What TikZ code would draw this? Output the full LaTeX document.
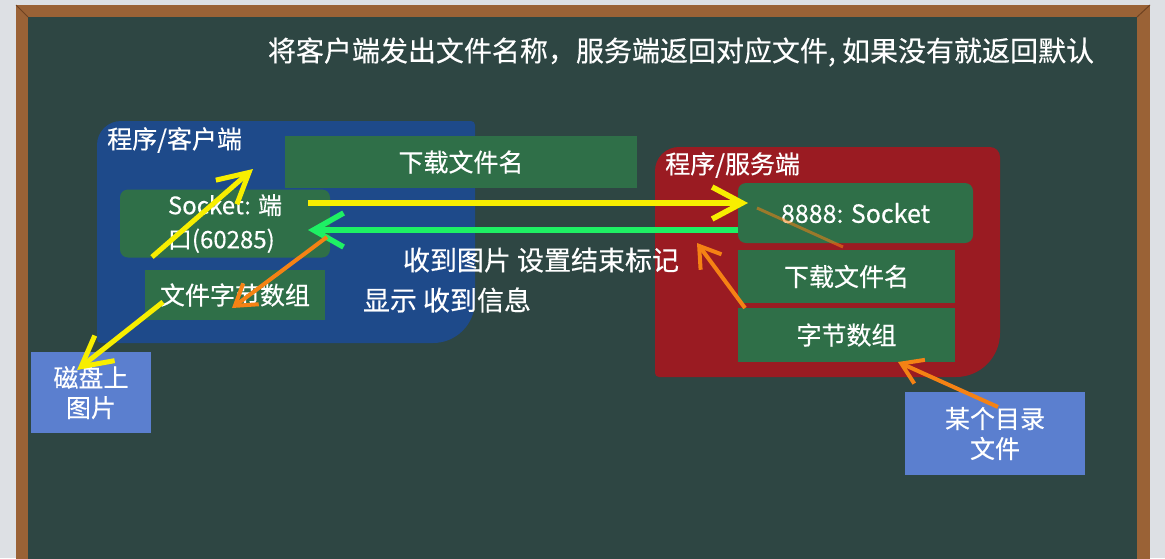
\documentclass[tikz,border=0pt]{standalone}
\usepackage{fontspec}
\setmainfont{Noto Sans CJK SC}[FakeBold=0.35]
\usetikzlibrary{arrows.meta}
\definecolor{outside}{HTML}{DDE0E4}
\definecolor{wood}{HTML}{9A6236}
\definecolor{wooddark}{HTML}{6E4222}
\definecolor{board}{HTML}{2E4643}
\definecolor{cliblue}{HTML}{1E4A8A}
\definecolor{boxgreen}{HTML}{2F6F48}
\definecolor{srvred}{HTML}{9A1B22}
\definecolor{lightblue}{HTML}{5B7FCF}
\definecolor{ayellow}{HTML}{F7EE00}
\definecolor{agreen}{HTML}{1EF064}
\definecolor{aorange}{HTML}{F58214}
\tikzset{
  txt/.style={text=white, inner sep=0pt, font=\fontsize{25}{30}\selectfont},
  gbox/.style={fill=boxgreen, inner sep=0pt, text=white, font=\fontsize{25}{30}\selectfont},
  lbbox/.style={fill=lightblue, inner sep=0pt, text=white, align=center, font=\fontsize{25}{30}\selectfont},
  yarrow/.style={draw=ayellow, line width=5.5pt, -{Straight Barb[length=30pt,width=32pt]}},
  garrow/.style={draw=agreen, line width=5.5pt, -{Straight Barb[length=30pt,width=34pt]}},
  oarrow/.style={draw=aorange, line width=4pt, -{Straight Barb[length=20pt,width=26pt]}}
}
\begin{document}
\begin{tikzpicture}[x=1pt,y=-1pt]
\useasboundingbox (0,0) rectangle (1165,558);
% background and chalkboard frame
\fill[outside] (0,0) rectangle (1165,558);
\fill[wood] (16,5) rectangle (1150,560);
\draw[wooddark, line width=1pt] (16,5) -- (28,17) (1150,5) -- (1137,17);
\fill[board] (28,17) rectangle (1137,560);
% title
\node[txt, font=\fontsize{28}{32}\selectfont] (title) at (681,52) {将客户端发出文件名称，服务端返回对应文件, 如果没有就返回默认};
% client container
\fill[cliblue] (97,250) [rounded corners=24] -- (97,121) [rounded corners=4] -- (475,121) [rounded corners=42] -- (475,343) [rounded corners=4] -- (97,343) -- cycle;
\node[txt, anchor=west] (clilabel) at (107,140) {程序/客户端};
% client inner boxes
\node[gbox, minimum width=352pt, minimum height=52pt] (dlname) at (461,162) {下载文件名};
\node[gbox, rounded corners=8pt, minimum width=210pt, minimum height=68pt, align=left, font=\fontsize{24}{34}\selectfont] (sockC) at (225,223.5) {Socket: 端\\口(60285)};
\node[gbox, minimum width=180pt, minimum height=50pt] (bytesC) at (235,295) {文件字节数组};
% disk
\node[lbbox, minimum width=120pt, minimum height=81pt] (disk) at (91,392.5) {磁盘上\\图片};
% server container
\fill[srvred] (655,260) [rounded corners=24] -- (655,147) [rounded corners=10] -- (1000,147) [rounded corners=44] -- (1000,377) [rounded corners=4] -- (655,377) -- cycle;
\node[txt, anchor=west] (srvlabel) at (665,165) {程序/服务端};
\node[gbox, rounded corners=8pt, minimum width=235pt, minimum height=60pt] (sockS) at (855.5,213) {8888: Socket};
\node[gbox, minimum width=217pt, minimum height=53pt] (nameS) at (846.5,276.5) {下载文件名};
\node[gbox, minimum width=217pt, minimum height=54pt] (bytesS) at (846.5,335) {字节数组};
% directory file
\node[lbbox, minimum width=180pt, minimum height=83pt] (dir) at (995,433.5) {某个目录\\文件};
% texts between
\node[txt, font=\fontsize{27}{32}\selectfont] (recv) at (541,260) {收到图片 设置结束标记};
\node[txt, font=\fontsize{27}{32}\selectfont] (show) at (447,300) {显示 收到信息};
% connector end points
\coordinate (yA) at (308,203);
\coordinate (yB) at (748,203);
\coordinate (gA) at (738,230);
\coordinate (gB) at (308,230);
\coordinate (uA) at (152,257);
\coordinate (uB) at (253,169);
\coordinate (dA) at (163,302);
\coordinate (dB) at (77,370);
\coordinate (oA) at (327,237);
\coordinate (oB) at (232,308);
\coordinate (sA) at (745,308);
\coordinate (sB) at (697,243);
\coordinate (rA) at (998,407);
\coordinate (rB) at (898,362);
\coordinate (fA) at (757,208);
\coordinate (fB) at (843,247);
% arrows
\draw[draw=aorange, line width=3pt, opacity=0.55] (fA) -- (fB);
\draw[yarrow] (yA) -- (yB);
\draw[garrow] (gA) -- (gB);
\draw[yarrow, line width=5pt] (uA) -- (uB);
\draw[yarrow, line width=5pt] (dA) -- (dB);
\draw[oarrow] (oA) -- (oB);
\draw[oarrow] (sA) -- (sB);
\draw[oarrow] (rA) -- (rB);
\end{tikzpicture}
\end{document}
